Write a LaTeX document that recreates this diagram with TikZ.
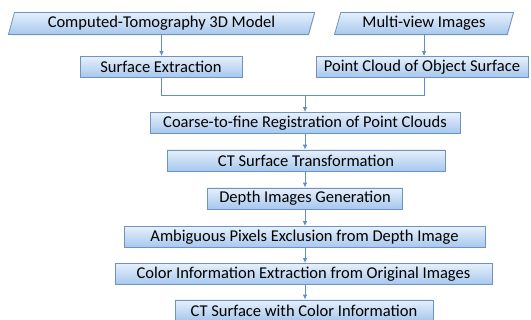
\documentclass[tikz,border=0pt]{standalone}
\usepackage{fontspec}
\setmainfont{Carlito}
\usepackage{tikz}
\usetikzlibrary{arrows.meta,shapes.geometric,shadows}

\definecolor{boxtop}{HTML}{E6F0FB}
\definecolor{boxbot}{HTML}{A6C7EE}
\definecolor{boxline}{HTML}{6F93C0}
\definecolor{flowline}{HTML}{5F8FC6}

\tikzset{
  stage/.style={draw=boxline, top color=boxtop, bottom color=boxbot, line width=0.8pt,
    minimum height=21pt, inner sep=0pt, font=\fontsize{16.5}{18}\selectfont,
    drop shadow={shadow xshift=0.6pt, shadow yshift=-1pt, opacity=0.25}},
  source/.style={stage, trapezium, trapezium left angle=72, trapezium right angle=108,
    trapezium stretches=true},
  flow/.style={draw=flowline, line width=0.9pt},
  flowarrow/.style={flow, -{Latex[length=5pt,width=4.5pt]}},
}

\begin{document}
\begin{tikzpicture}[x=1pt,y=1pt]
  \useasboundingbox (0,0) rectangle (531,-320);

  \draw (161.5,-23.5) node[source, minimum width=307pt, minimum height=22pt] (ctmodel) {Computed-Tomography 3D Model};
  \draw (424,-23.5) node[source, minimum width=179pt, minimum height=22pt] (mvimages) {Multi-view Images};

  \draw (161,-67) node[stage, minimum width=162pt] (surfext) {Surface Extraction};
  \draw (422,-67) node[stage, minimum width=212pt] (pcloud) {Point Cloud of Object Surface};

  \draw (305,-123) node[stage, minimum width=310pt] (coarse) {Coarse-to-fine Registration of Point Clouds};
  \draw (306,-160.5) node[stage, minimum width=278pt] (cttrans) {CT Surface Transformation};
  \draw (305,-198.5) node[stage, minimum width=195pt] (depthgen) {Depth Images Generation};
  \draw (304.5,-237) node[stage, minimum width=361pt] (ambig) {Ambiguous Pixels Exclusion from Depth Image};
  \draw (303.5,-274) node[stage, minimum width=377pt] (colorext) {Color Information Extraction from Original Images};
  \draw (304,-310.5) node[stage, minimum width=258pt] (ctcolor) {CT Surface with Color Information};

  \coordinate (merge) at (305,-95);

  \draw[flowarrow] (ctmodel.south) -- (ctmodel.south |- surfext.north);
  \draw[flowarrow] (mvimages.south) -- (mvimages.south |- pcloud.north);
     \draw[flow] (surfext.south) |- (merge);
     \draw[flow] (mvimages.south |- pcloud.south) |- (merge);
  \draw[flowarrow] (merge) -- (merge |- coarse.north);
  \draw[flowarrow] (coarse.south -| merge) -- (merge |- cttrans.north);
  \draw[flowarrow] (cttrans.south -| merge) -- (merge |- depthgen.north);
  \draw[flowarrow] (depthgen.south -| merge) -- (merge |- ambig.north);
  \draw[flowarrow] (ambig.south -| merge) -- (merge |- colorext.north);
  \draw[flowarrow] (colorext.south -| merge) -- (merge |- ctcolor.north);
\end{tikzpicture}
\end{document}
